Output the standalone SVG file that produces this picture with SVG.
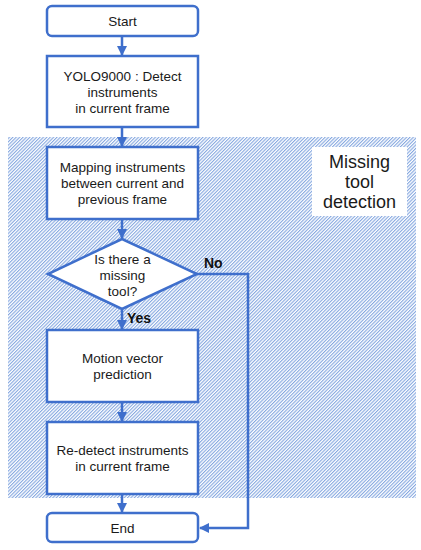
<svg xmlns="http://www.w3.org/2000/svg" width="421" height="550" viewBox="0 0 421 550">
<defs>
<pattern id="hatch" width="2.4" height="2.4" patternUnits="userSpaceOnUse" patternTransform="rotate(45)">
<rect width="2.4" height="2.4" fill="#ffffff"/>
<rect width="1.1" height="2.4" fill="#86a8e0"/>
</pattern>
<marker id="arr" viewBox="0 0 10 10" refX="9" refY="5" markerWidth="4" markerHeight="4" orient="auto" markerUnits="strokeWidth">
<path d="M0,0 L10,5 L0,10 z" fill="#3f6fcc"/>
</marker>
</defs>
<style>
.box{fill:#ffffff;stroke:#3f6fcc;stroke-width:2.5}
.t{font-family:"Liberation Sans",Arial,sans-serif;font-size:13.5px;fill:#1a1a1a;text-anchor:middle}
.big{font-size:18px}
.lbl{font-family:"Liberation Sans",Arial,sans-serif;font-size:14px;font-weight:bold;fill:#111}
.c{fill:none;stroke:#3f6fcc;stroke-width:2.5;marker-end:url(#arr)}
</style>
<rect x="8" y="137" width="408" height="361" fill="url(#hatch)"/>
<g id="label-missing">
<rect x="312" y="147" width="95" height="69" fill="#ffffff"/>
<text class="t big" x="359.5" y="168">Missing</text>
<text class="t big" x="359.5" y="188">tool</text>
<text class="t big" x="359.5" y="208">detection</text>
</g>
<g id="connectors">
<path class="c" d="M122,37 V55"/>
<path class="c" d="M122,128 V146"/>
<path class="c" d="M122,220 V238"/>
<path class="c" d="M122,310 V329"/>
<path class="c" d="M122,403 V421"/>
<path class="c" d="M122,495 V512"/>
<path class="c" d="M197,274 H248 V528 H200"/>
<text class="lbl" x="204" y="268">No</text>
<text class="lbl" x="127" y="323">Yes</text>
</g>
<g id="start">
<rect class="box" x="47" y="6" width="151" height="30" rx="5"/>
<text class="t" x="122.5" y="26">Start</text>
</g>
<g id="yolo">
<rect class="box" x="47" y="56" width="151" height="71"/>
<text class="t" x="122.5" y="81">YOLO9000 : Detect</text>
<text class="t" x="122.5" y="97">instruments</text>
<text class="t" x="122.5" y="113">in current frame</text>
</g>
<g id="mapping">
<rect class="box" x="47" y="147" width="151" height="72"/>
<text class="t" x="122.5" y="172">Mapping instruments</text>
<text class="t" x="122.5" y="188">between current and</text>
<text class="t" x="122.5" y="204">previous frame</text>
</g>
<g id="decision">
<polygon class="box" points="122,239 197,274 122,309 48,274"/>
<text class="t" x="122.5" y="264">Is there a</text>
<text class="t" x="122.5" y="280">missing</text>
<text class="t" x="122.5" y="296">tool?</text>
</g>
<g id="motion">
<rect class="box" x="47" y="330" width="151" height="72"/>
<text class="t" x="122.5" y="363">Motion vector</text>
<text class="t" x="122.5" y="379">prediction</text>
</g>
<g id="redetect">
<rect class="box" x="47" y="422" width="151" height="72"/>
<text class="t" x="122.5" y="455">Re-detect instruments</text>
<text class="t" x="122.5" y="471">in current frame</text>
</g>
<g id="end">
<rect class="box" x="47" y="513" width="151" height="29" rx="5"/>
<text class="t" x="122.5" y="533">End</text>
</g>
</svg>
